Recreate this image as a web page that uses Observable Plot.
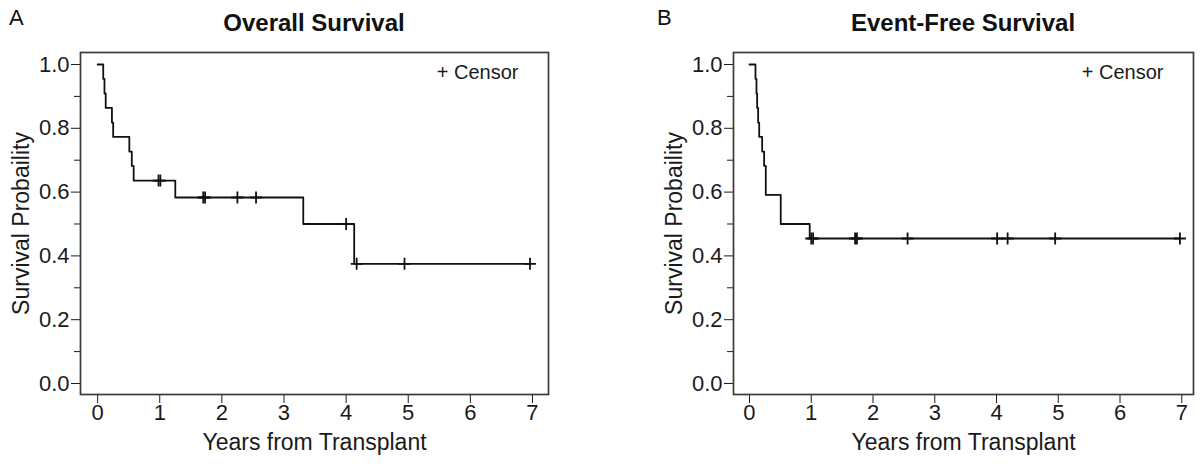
<!DOCTYPE html>
<html>
<head>
<meta charset="utf-8">
<script src="https://cdn.jsdelivr.net/npm/d3@7"></script>
<script src="https://cdn.jsdelivr.net/npm/@observablehq/plot@0.6"></script>
<style>
  html, body { margin: 0; padding: 0; background: #fff; }
  #wrap { position: relative; width: 1201px; height: 464px; overflow: hidden; font-family: "Liberation Sans", Arial, sans-serif; color: #111; }
  .panel { position: absolute; top: 0; }
  .letter { position: absolute; font-size: 22px; }
  .title { position: absolute; font-size: 24px; font-weight: bold; transform: translateX(-50%); white-space: nowrap; }
</style>
</head>
<body>
<div id="wrap">
  <div class="panel" id="pA" style="left:0px"></div>
  <div class="panel" id="pB" style="left:600px"></div>
  <div class="letter" style="left:9px; top:5px">A</div>
  <div class="title" style="left:314px; top:9px">Overall Survival</div>
  <div class="letter" style="left:657px; top:5px">B</div>
  <div class="title" style="left:963px; top:9px">Event-Free Survival</div>
</div>
<script>
// ---- Data ----
// Panel A: Overall Survival (step points: time, survival after that time)
const osTime = [0, 0.09, 0.11, 0.13, 0.23, 0.25, 0.51, 0.55, 0.58, 1.25, 3.31, 4.13, 6.96];
const osSurv = [1.0, 0.955, 0.909, 0.864, 0.818, 0.773, 0.727, 0.682, 0.636, 0.583, 0.5, 0.375, 0.375];
const osCensorTime = [0.98, 1.01, 1.70, 1.73, 2.25, 2.55, 4.00, 4.17, 4.94, 6.96];
const osCensorSurv = [0.636, 0.636, 0.583, 0.583, 0.583, 0.583, 0.5, 0.375, 0.375, 0.375];

// Panel B: Event-Free Survival
const efsTime = [0, 0.097, 0.113, 0.124, 0.14, 0.157, 0.205, 0.237, 0.264, 0.506, 0.975, 6.97];
const efsSurv = [1.0, 0.955, 0.909, 0.864, 0.818, 0.773, 0.727, 0.682, 0.591, 0.5, 0.4545, 0.4545];
const efsCensorTime = [1.00, 1.03, 1.71, 1.74, 2.56, 4.01, 4.18, 4.95, 6.97];
const efsCensorSurv = [0.4545, 0.4545, 0.4545, 0.4545, 0.4545, 0.4545, 0.4545, 0.4545, 0.4545];

// Axis ticks and labels
const xTicks = [0, 1, 2, 3, 4, 5, 6, 7];
const yMajorTicks = [0, 0.2, 0.4, 0.6, 0.8, 1.0];
const yMinorTicks = [0.1, 0.3, 0.5, 0.7, 0.9];
const xLabel = "Years from Transplant";
const yLabel = "Survival Probaility";
const legendText = "+ Censor";

// Censor "+" symbol
const plusSymbol = {
  draw(context, size) {
    const r = Math.sqrt(size / Math.PI);
    context.moveTo(0, -r); context.lineTo(0, r);
    context.moveTo(-r, 0); context.lineTo(r, 0);
  }
};

function panel({time, surv, cTime, cSurv, width, marginLeft, marginRight, xDomain}) {
  return Plot.plot({
    width, height: 464,
    marginLeft, marginRight, marginTop: 52, marginBottom: 70,
    style: { fontFamily: "Liberation Sans, Arial, sans-serif", fontSize: "22px", color: "#1a1a1a", background: "transparent", overflow: "visible" },
    x: { domain: xDomain },
    y: { domain: [-0.0345, 1.0376] },
    marks: [
      Plot.axisX({ ticks: xTicks, tickFormat: "d", tickSize: 9, tickPadding: 1, fontSize: 22, label: null }),
      Plot.axisX({ ticks: [], label: xLabel, labelAnchor: "center", labelArrow: "none", labelOffset: 55, fontSize: 23 }),
      Plot.axisY({ ticks: yMinorTicks, tickSize: 6, tickFormat: () => "" , label: null}),
      Plot.axisY({ ticks: yMajorTicks, tickFormat: ".1f", tickSize: 9, tickPadding: 2, fontSize: 22, label: null }),
      Plot.axisY({ ticks: [], label: yLabel, labelAnchor: "center", labelArrow: "none", labelOffset: 68, fontSize: 23 }),
      Plot.frame({ stroke: "#3a3a3a", strokeWidth: 1.7 }),
      Plot.line(time, { x: time, y: surv, curve: "step-after", stroke: "#111", strokeWidth: 1.8 }),
      Plot.dot(cTime, { x: cTime, y: cSurv, symbol: plusSymbol, r: 6, fill: "none", stroke: "#111", strokeWidth: 1.8 }),
      Plot.text([legendText], { frameAnchor: "top-right", text: d => d, dx: -30, dy: 20, lineAnchor: "middle", textAnchor: "end", fontSize: 20, fill: "#1a1a1a" })
    ]
  });
}

document.getElementById("pA").append(panel({
  time: osTime, surv: osSurv, cTime: osCensorTime, cSurv: osCensorSurv,
  width: 600, marginLeft: 80, marginRight: 52, xDomain: [-0.276, 7.258]
}));
document.getElementById("pB").append(panel({
  time: efsTime, surv: efsSurv, cTime: efsCensorTime, cSurv: efsCensorSurv,
  width: 601, marginLeft: 133, marginRight: 8, xDomain: [-0.259, 7.19]
}));
</script>
</body>
</html>
